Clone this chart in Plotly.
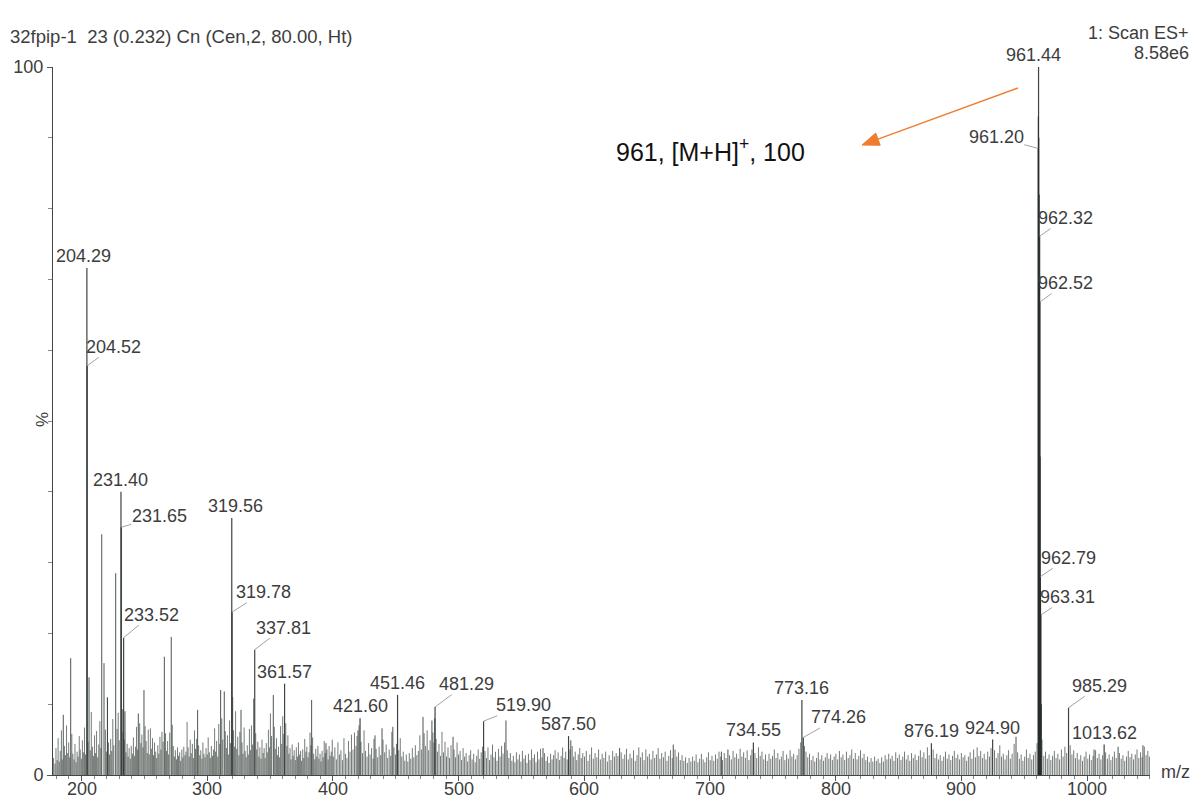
import math
import plotly.graph_objects as go

# ---------------- data ----------------
# labelled peaks (m/z, relative intensity %)
label_mz = [961.44, 961.20, 962.32, 962.52, 962.79, 963.31,
            204.29, 204.52, 231.40, 231.65, 233.52, 319.56, 319.78,
            337.81, 361.57, 421.60, 451.46, 481.29, 519.90, 587.50,
            734.55, 773.16, 774.26, 876.19, 924.90, 985.29, 1013.62]
label_pct = [100.0, 88.5, 76.1, 66.8, 28.0, 22.6,
             71.6, 57.8, 40.0, 35.0, 19.4, 36.3, 23.0,
             17.7, 12.9, 8.0, 11.3, 9.6, 7.6, 5.5,
             4.6, 10.6, 5.3, 4.5, 5.0, 9.5, 4.3]
label_text = ["961.44", "961.20", "962.32", "962.52", "962.79", "963.31",
              "204.29", "204.52", "231.40", "231.65", "233.52", "319.56", "319.78",
              "337.81", "361.57", "421.60", "451.46", "481.29", "519.90", "587.50",
              "734.55", "773.16", "774.26", "876.19", "924.90", "985.29", "1013.62"]

# extra lines of the molecular-ion cluster
cluster_peaks = [(961.30, 93.0), (961.60, 90.0), (961.90, 82.0), (962.10, 70.0),
                 (962.65, 45.0), (963.00, 26.0), (963.60, 10.0)]

# other clearly visible unlabelled peaks
strong_peaks = [(185.5, 8.5), (191.4, 16.5), (206.0, 13.8), (216.1, 34.0), (217.9, 15.8),
                (220.6, 11.0), (227.2, 28.5), (234.6, 9.0), (245.2, 8.7), (249.7, 12.0),
                (265.9, 16.7), (271.4, 19.5), (292.4, 9.2), (310.7, 12.0), (313.6, 11.8),
                (326.9, 9.2), (352.6, 11.3), (383.1, 10.6), (394.5, 4.5), (420.0, 6.3),
                (433.5, 5.6), (439.1, 6.6), (447.7, 6.8), (471.7, 8.2), (478.8, 7.7),
                (481.1, 8.0), (495.6, 5.4), (537.7, 7.7), (567.2, 3.8), (589.3, 4.9),
                (628.1, 3.8), (670.8, 4.3), (709.1, 3.3), (714.3, 3.6), (943.5, 5.4),
                (1005.6, 3.6), (1024.7, 4.0), (1044.5, 4.2)]

noise_low = [(177.8,2.4),(178.9,1.6),(179.7,3.8),(180.6,2.1),(181.4,5.2),(182.3,1.9),(183.1,3.4),(184.0,6.3),(184.7,2.2),(186.4,4.1),(187.2,2.8),(188.1,7.0),(189.0,3.1),(189.8,4.6),(190.6,2.5),(192.3,5.8),(193.1,3.0),(194.0,2.2),(194.8,4.4),(195.7,1.8),(196.5,3.3),(197.3,2.6),(198.2,5.5),(199.0,3.6),(199.9,2.3),(200.7,4.9),(201.5,3.2),(202.4,6.7),(203.2,2.9),(205.2,4.7),(207.0,3.5),(207.8,8.9),(208.7,4.0),(209.5,2.7),(210.4,5.6),(211.2,3.1),(212.0,6.2),(212.9,2.5),(213.7,4.3),(214.6,7.6),(215.4,3.8),(219.0,6.4),(219.8,3.3),(220.7,10.8),(221.5,4.6),(222.3,2.9),(223.2,5.1),(224.0,3.4),(224.9,7.9),(225.7,4.2),(228.3,6.5),(229.2,8.8),(230.0,4.9),(232.5,9.3),(233.0,6.1),(234.0,5.0),(235.4,3.2),(236.3,4.4),(237.1,2.6),(237.9,3.8),(238.8,2.3),(239.6,4.1),(240.5,3.0),(241.3,5.3),(242.1,2.7),(243.0,4.0),(243.8,6.8),(244.7,3.6),(246.3,7.3),(247.2,4.5),(248.0,5.7),(248.9,3.9),(250.6,6.9),(251.4,4.8),(252.3,3.1),(253.1,6.4),(253.9,2.9),(254.8,6.6),(255.6,3.7),(256.5,5.2),(257.3,2.8),(258.1,4.6),(259.0,3.3),(259.8,2.4),(260.7,4.2),(261.5,3.0),(262.4,5.4),(263.2,3.6),(264.0,6.1),(264.9,4.7),(266.8,5.9),(267.6,3.4),(268.5,4.8),(269.3,2.9),(270.2,6.0),(272.2,7.1),(273.0,4.1),(273.9,2.6),(274.7,3.5),(275.6,2.2),(276.4,3.9),(277.2,2.7),(278.1,3.2),(278.9,2.0),(279.8,3.6),(280.6,2.5),(281.4,4.0),(282.3,2.8),(283.1,3.3),(284.0,7.5),(284.8,3.9),(285.7,2.6),(286.5,5.0),(287.3,3.1),(288.2,4.4),(289.0,2.4),(289.9,6.3),(290.7,3.7),(291.6,5.1),(293.2,4.2),(294.1,2.8),(294.9,3.5),(295.8,2.3),(296.6,4.6),(297.4,3.0),(298.3,2.5),(299.1,3.8)]

noise_300 = [(300.0,2.9),(300.8,5.3),(301.7,3.2),(302.5,2.4),(303.3,4.1),(304.2,2.7),(305.0,3.6),(305.9,6.6),(306.7,3.3),(307.5,4.8),(308.4,2.6),(309.2,7.2),(310.0,4.4),(311.6,8.0),(312.4,5.0),(314.4,6.2),(315.3,3.8),(316.1,5.6),(316.9,2.9),(317.8,7.7),(318.6,4.5),(320.3,11.0),(321.0,6.3),(321.8,4.0),(322.6,9.0),(323.5,3.7),(324.3,5.4),(325.2,2.8),(326.0,6.1),(327.7,4.6),(328.5,3.0),(329.4,6.7),(330.2,3.4),(331.0,2.5),(331.9,4.2),(332.7,2.9),(333.6,6.5),(334.4,3.5),(335.2,7.0),(336.1,4.3),(336.9,10.8),(338.6,5.9),(339.4,3.6),(340.3,4.7),(341.1,2.6),(341.9,3.9),(342.8,2.3),(343.6,5.0),(344.5,3.1),(345.3,3.8),(346.1,2.4),(347.0,4.5),(347.8,3.2),(348.7,6.4),(349.5,3.9),(350.3,8.7),(351.2,5.5),(353.4,6.8),(354.2,3.7),(355.1,5.2),(355.9,2.8),(356.7,4.0),(357.6,2.5),(358.4,6.9),(359.3,4.4),(360.1,8.3),(360.9,5.8),(362.5,7.3),(363.4,4.1),(364.2,5.6),(365.0,3.0),(365.9,3.8),(366.7,2.2),(367.6,4.3),(368.4,2.7),(369.2,3.5),(370.1,2.1),(370.9,3.9),(371.8,2.6),(372.6,4.6),(373.4,2.9),(374.3,3.4),(375.1,2.0),(376.0,3.6),(376.8,2.4),(377.6,5.1),(378.5,3.3),(379.3,4.0),(380.2,2.5),(381.0,3.2),(381.8,6.0),(382.5,4.2),(383.9,5.3),(384.7,3.0),(385.6,2.2),(386.4,3.7),(387.2,2.6),(388.1,4.1),(388.9,2.3),(389.8,3.0),(390.6,1.9),(391.4,3.4),(392.3,2.5),(393.1,4.8),(393.9,3.1),(395.3,3.6),(396.2,2.2),(397.0,4.1),(397.8,2.7),(398.7,3.3),(399.5,5.0)]

noise_400 = [(400.4,2.6),(401.6,3.9),(402.8,2.2),(404.0,4.6),(405.2,2.9),(406.4,3.5),(407.6,2.1),(408.8,5.2),(410.0,3.0),(411.2,2.4),(412.4,4.8),(413.6,3.3),(414.8,5.7),(416.0,3.6),(417.2,6.0),(418.4,4.1),(419.2,5.5),(420.8,7.0),(422.4,4.7),(423.6,3.1),(424.8,6.3),(426.0,3.4),(427.2,2.6),(428.4,4.5),(429.6,2.9),(430.8,3.8),(432.0,2.3),(432.7,5.1),(434.4,3.7),(435.6,2.5),(436.8,4.0),(438.0,2.8),(439.9,5.0),(441.2,3.2),(442.4,4.3),(443.6,2.4),(444.8,3.6),(446.0,2.7),(446.9,6.1),(448.6,3.9),(449.8,2.9),(450.6,4.4),(452.4,3.5),(453.6,5.2),(454.8,2.6),(456.0,3.3),(457.2,2.0),(458.4,2.9),(459.6,1.9),(460.8,3.1),(462.0,2.3),(463.2,3.8),(464.4,2.5),(465.6,4.2),(466.8,2.8),(468.0,3.4),(469.2,5.6),(470.4,3.6),(472.6,5.9),(473.8,4.1),(475.0,6.3),(476.2,3.5),(477.4,4.9),(479.6,6.0),(480.4,4.6),(482.1,5.1),(483.2,3.3),(484.4,4.4),(485.6,2.7),(486.8,6.1),(488.0,3.2),(489.2,4.7),(490.4,2.6),(491.6,3.9),(492.8,2.4),(494.0,4.2),(496.4,3.6),(497.6,2.5),(498.8,4.6),(500.0,2.9),(501.2,3.4),(502.4,2.1),(503.6,3.8),(504.8,2.6),(506.0,3.1),(507.2,1.9),(508.4,2.8),(509.6,3.5),(510.8,2.2),(512.0,3.0),(513.2,1.8),(514.4,2.7),(515.6,3.6),(516.8,2.3),(518.0,3.2),(519.0,4.0),(521.0,3.4),(522.2,2.4),(523.4,3.9),(524.6,2.1),(525.8,2.9),(527.0,4.3),(528.2,2.5),(529.4,3.3),(530.6,2.0),(531.8,3.7),(533.0,2.6),(534.2,4.1),(535.4,3.0),(536.6,4.6),(538.8,3.5),(540.0,2.4),(541.2,3.1),(542.4,2.0),(543.6,2.7),(544.8,1.8),(546.0,3.2),(547.2,2.2),(548.4,2.9),(549.6,1.9),(550.8,3.4),(552.0,2.3),(553.2,2.8),(554.4,1.7),(555.6,3.0),(556.8,2.1),(558.0,3.6),(559.2,2.4),(560.4,2.9),(561.6,1.8),(562.8,3.3),(564.0,2.2),(565.2,3.7),(566.4,2.5),(568.4,3.1),(569.6,2.0),(570.8,2.6),(572.0,1.7),(573.2,3.0),(574.4,2.2),(575.6,2.8),(576.8,3.5),(578.0,2.3),(579.2,3.2),(580.4,2.1),(581.6,2.7),(582.8,3.9),(584.0,2.4),(585.2,3.3),(586.4,2.2),(588.6,3.6),(590.4,4.1),(591.6,2.6),(592.8,3.3),(594.0,2.1),(595.2,2.9),(596.4,3.8),(597.6,2.4),(598.8,3.1)]

noise_600 = [(600.2,2.6),(601.6,3.4),(603.0,2.0),(604.4,2.9),(605.8,3.9),(607.2,2.3),(608.6,3.1),(610.0,2.5),(611.4,3.6),(612.8,2.2),(614.2,3.0),(615.6,2.4),(617.0,3.3),(618.4,1.9),(619.8,2.8),(621.2,2.1),(622.6,3.4),(624.0,2.6),(625.4,3.1),(626.8,2.7),(629.4,3.2),(630.8,2.3),(632.2,2.9),(633.6,3.7),(635.0,2.2),(636.4,3.0),(637.8,2.4),(639.2,3.5),(640.6,2.0),(642.0,2.8),(643.4,3.9),(644.8,2.5),(646.2,3.2),(647.6,2.1),(649.0,3.6),(650.4,2.6),(651.8,3.0),(653.2,2.2),(654.6,3.4),(656.0,2.4),(657.4,2.9),(658.8,3.8),(660.2,2.3),(661.6,3.1),(663.0,2.5),(664.4,3.3),(665.8,2.0),(667.2,2.7),(668.6,3.5),(670.0,2.4),(672.2,3.6),(673.6,2.6),(675.0,3.2),(676.4,2.1),(677.8,2.8),(679.2,2.0),(680.6,2.5),(682.0,1.7),(683.4,2.4),(684.8,1.9),(686.2,2.6),(687.6,2.0),(689.0,2.9),(690.4,1.8),(691.8,2.3),(693.2,3.0),(694.6,2.2),(696.0,1.8),(697.4,2.5),(698.8,3.2),(700.2,2.1),(701.6,2.7),(703.0,2.0),(704.4,2.9),(705.8,2.3),(707.2,3.3),(708.6,2.6),(710.0,2.1),(711.4,3.1),(712.8,2.4),(715.6,2.8),(717.0,2.2),(718.4,3.4),(719.8,2.5),(721.2,3.0),(722.6,2.3),(724.0,3.7),(725.4,2.6),(726.8,3.2),(728.2,2.4),(729.6,3.5),(731.0,2.1),(732.4,2.8),(733.4,3.6),(735.8,3.1),(737.2,2.4),(738.6,3.9),(740.0,2.7),(741.4,3.3),(742.8,2.2),(744.2,2.9),(745.6,2.0),(747.0,3.0),(748.4,2.3),(749.8,2.7),(751.2,3.6),(752.6,2.4),(754.0,3.1),(755.4,2.2),(756.8,2.6),(758.2,3.4),(759.6,2.1),(761.0,2.9),(762.4,2.3),(763.8,3.5),(765.2,2.6),(766.6,3.0),(768.0,2.2),(769.4,2.8),(770.8,3.7),(772.2,4.6),(775.2,4.1),(776.4,3.3),(777.8,2.5),(779.2,3.0),(780.6,2.1),(782.0,2.7),(783.4,1.9),(784.8,2.4),(786.2,3.2),(787.6,2.2),(789.0,2.8),(790.4,2.0),(791.8,2.5),(793.2,3.1),(794.6,2.3),(796.0,2.9),(797.4,2.1),(798.8,2.6)]

noise_800 = [(800.2,3.0),(801.6,2.2),(803.0,3.4),(804.4,2.5),(805.8,2.9),(807.2,2.1),(808.6,3.3),(810.0,2.4),(811.4,2.8),(812.8,3.6),(814.2,2.3),(815.6,3.1),(817.0,2.2),(818.4,2.7),(819.8,3.5),(821.2,2.4),(822.6,3.0),(824.0,2.1),(825.4,2.6),(826.8,1.8),(828.2,2.4),(829.6,1.9),(831.0,2.6),(832.4,2.0),(833.8,2.3),(835.2,1.7),(836.6,2.5),(838.0,1.9),(839.4,2.8),(840.8,2.2),(842.2,3.0),(843.6,2.3),(845.0,2.7),(846.4,2.0),(847.8,3.2),(849.2,2.4),(850.6,2.9),(852.0,2.1),(853.4,2.6),(854.8,3.3),(856.2,2.2),(857.6,2.8),(859.0,2.0),(860.4,3.1),(861.8,2.4),(863.2,2.9),(864.6,2.1),(866.0,2.7),(867.4,3.5),(868.8,2.5),(870.2,3.2),(871.6,2.3),(873.0,3.9),(874.4,2.8),(877.6,3.6),(879.0,2.4),(880.4,3.0),(881.8,2.2),(883.2,2.8),(884.6,2.0),(886.0,2.6),(887.4,3.3),(888.8,2.3),(890.2,2.9),(891.6,2.1),(893.0,2.7),(894.4,3.4),(895.8,2.4),(897.2,2.9),(898.6,2.2),(900.0,3.1),(901.4,2.5),(902.8,2.8),(904.2,2.0),(905.6,2.6),(907.0,3.2),(908.4,2.3),(909.8,3.6),(911.2,2.5),(912.6,3.9),(914.0,2.7),(915.4,3.4),(916.8,2.4),(918.2,3.0),(919.6,2.2),(921.0,3.3),(922.4,2.6),(923.6,3.8),(926.4,3.5),(927.8,2.4),(929.2,3.1),(930.6,4.2),(932.0,2.6),(933.4,3.0),(934.8,2.2),(936.2,2.8),(937.6,3.5),(939.0,2.3),(940.4,3.0),(942.0,4.4),(944.8,3.2),(946.2,2.3),(947.6,2.9),(949.0,2.0),(950.4,2.6),(951.8,3.6),(953.2,2.4),(954.6,3.0),(956.0,2.2),(957.4,2.8),(958.8,3.3),(960.2,4.5),(964.2,5.0),(965.6,2.7),(967.0,3.3),(968.4,2.3),(969.8,2.9),(971.2,2.1),(972.6,2.7),(974.0,3.4),(975.4,2.4),(976.8,3.0),(978.2,2.2),(979.6,3.6),(981.0,2.6),(982.4,4.0),(983.8,3.1),(986.6,4.2),(988.0,2.9),(989.4,3.5),(990.8,2.4),(992.2,3.1),(993.6,2.2),(995.0,2.8),(996.4,2.0),(997.8,2.6),(999.2,3.3),(1000.6,2.3),(1002.0,2.9),(1003.4,2.1),(1004.8,2.7),(1006.8,3.5),(1008.2,2.4),(1009.6,3.0),(1011.0,2.2),(1012.4,2.8),(1014.8,3.2),(1016.2,2.3),(1017.6,2.9),(1019.0,2.1),(1020.4,2.6),(1021.8,3.3),(1023.2,2.4),(1025.8,3.1),(1027.2,2.3),(1028.6,2.8),(1030.0,2.0),(1031.4,2.6),(1032.8,3.4),(1034.2,2.5),(1035.6,3.0),(1037.0,2.2),(1038.4,2.9),(1039.8,3.6),(1041.2,2.4),(1042.6,3.2),(1043.8,2.5),(1045.6,4.0),(1047.0,2.8),(1048.4,3.4),(1049.6,2.6)]

x_tick_vals = [200, 300, 400, 500, 600, 700, 800, 900, 1000]
y_tick_vals = [0, 100]

header_left = "32fpip-1  23 (0.232) Cn (Cen,2, 80.00, Ht)"
header_right_1 = "1: Scan ES+"
header_right_2 = "8.58e6"
callout_text = "961, [M+H]<sup>+</sup>, 100"

# ---------------- styling / layout ----------------
W, H = 1197, 800
ML, MR, MT, MB = 53, 47, 67, 25
PW, PH = W - ML - MR, H - MT - MB
FONT = "Liberation Sans, Arial, sans-serif"
TXT = "#3d3d3d"
ORANGE = "#EE7D30"

# leader-line labels: pixel offset of text centre from the peak top
LEADER = {"961.20": (-42, -11), "962.32": (26, -18), "962.52": (26, -19),
          "962.79": (28, -19), "963.31": (27, -18), "204.52": (26, -19),
          "231.65": (38, -11), "233.52": (28, -23), "319.78": (31, -20),
          "337.81": (29, -22), "481.29": (31, -23), "519.90": (40, -16),
          "774.26": (35, -20), "985.29": (31, -22)}
DIRECT_XSHIFT = {"961.44": -5, "319.56": 4, "204.29": -3}

# callout arrow (page pixels): tail and head
ARROW_TAIL = (1018, 88)
ARROW_HEAD = (862, 145)


def px(xp):
    return (xp - ML) / PW


def py(yp):
    return (MT + PH - yp) / PH


def sticks(pairs):
    xs, ys = [], []
    for m, h in pairs:
        xs += [m, m, None]
        ys += [0, h, None]
    return xs, ys


fig = go.Figure()

groups = [
    (noise_low + noise_300 + noise_400 + noise_600 + noise_800, "rgba(50,60,55,0.68)", 1),
    (strong_peaks, "rgba(45,55,50,0.85)", 1),
    (list(zip(label_mz, label_pct)) + cluster_peaks, "rgba(40,48,45,0.9)", 1.2),
]
for pairs, col, w in groups:
    xs, ys = sticks(pairs)
    fig.add_trace(go.Scatter(x=xs, y=ys, mode="lines", line=dict(color=col, width=w),
                             hoverinfo="skip", showlegend=False))

ann = []
for m, h, t in zip(label_mz, label_pct, label_text):
    if t in LEADER:
        ax, ay = LEADER[t]
        ann.append(dict(x=m, y=h, xref="x", yref="y", text=t, showarrow=True,
                        arrowhead=0, arrowwidth=0.8, arrowcolor="#8a8a8a",
                        ax=ax, ay=ay, axref="pixel", ayref="pixel",
                        standoff=0, borderpad=0,
                        font=dict(family=FONT, size=18, color=TXT)))
    else:
        ann.append(dict(x=m, y=h, xref="x", yref="y", text=t, showarrow=False,
                        yanchor="bottom", yshift=1, xshift=DIRECT_XSHIFT.get(t, 0),
                        borderpad=0, font=dict(family=FONT, size=18, color=TXT)))

# x tick labels placed as annotations so they sit where the reference has them
for v in x_tick_vals:
    ann.append(dict(x=v, y=py(789), xref="x", yref="paper", text=str(v), showarrow=False,
                    xanchor="center", yanchor="middle",
                    font=dict(family=FONT, size=18, color=TXT)))

ann += [
    dict(x=px(8), y=py(37), xref="paper", yref="paper", text=header_left, showarrow=False,
         xanchor="left", yanchor="middle", font=dict(family=FONT, size=18.5, color=TXT)),
    dict(x=px(1191), y=py(33), xref="paper", yref="paper", text=header_right_1, showarrow=False,
         xanchor="right", yanchor="middle", font=dict(family=FONT, size=18, color=TXT)),
    dict(x=px(1191), y=py(53), xref="paper", yref="paper", text=header_right_2, showarrow=False,
         xanchor="right", yanchor="middle", font=dict(family=FONT, size=18, color=TXT)),
    dict(x=px(42), y=py(420), xref="paper", yref="paper", text="%", showarrow=False,
         textangle=-90, xanchor="center", yanchor="middle",
         font=dict(family=FONT, size=17, color=TXT)),
    dict(x=px(1175), y=py(772), xref="paper", yref="paper", text="m/z", showarrow=False,
         xanchor="center", yanchor="middle", font=dict(family=FONT, size=18, color=TXT)),
    dict(x=px(710), y=py(150), xref="paper", yref="paper", text=callout_text, showarrow=False,
         xanchor="center", yanchor="middle", font=dict(family=FONT, size=25, color="#111111")),
]

# orange callout arrow drawn with shapes (line + filled head)
tx, ty = ARROW_TAIL
hx, hy = ARROW_HEAD
L = math.hypot(tx - hx, ty - hy)
ux, uy = (tx - hx) / L, (ty - hy) / L
head_len, head_half = 17, 6.5
bx, by = hx + ux * head_len, hy + uy * head_len
nx, ny = -uy, ux
c1 = (bx + nx * head_half, by + ny * head_half)
c2 = (bx - nx * head_half, by - ny * head_half)
shapes = [
    dict(type="line", xref="paper", yref="paper", x0=px(tx), y0=py(ty), x1=px(bx), y1=py(by),
         line=dict(color=ORANGE, width=1.4)),
    dict(type="path", xref="paper", yref="paper",
         path=f"M {px(hx)} {py(hy)} L {px(c1[0])} {py(c1[1])} L {px(c2[0])} {py(c2[1])} Z",
         fillcolor=ORANGE, line=dict(color=ORANGE, width=1)),
]

x0 = 200 - (81.5 - ML) / 1.2569
x1 = 200 + (ML + PW - 81.5) / 1.2569

fig.update_layout(
    width=W, height=H, margin=dict(l=ML, r=MR, t=MT, b=MB, pad=0, autoexpand=False),
    paper_bgcolor="white", plot_bgcolor="white",
    font=dict(family=FONT, color=TXT),
    annotations=ann, shapes=shapes, showlegend=False,
    xaxis=dict(range=[x0, x1], tickmode="array", tickvals=x_tick_vals,
               showticklabels=False, automargin=False,
               showline=True, linecolor="#444", linewidth=1, ticks="outside",
               ticklen=5, tickcolor="#555", tickwidth=1, showgrid=False, zeroline=False,
               minor=dict(tickmode="linear", tick0=0, dtick=10, ticks="outside",
                          ticklen=3, tickcolor="#888", showgrid=False)),
    yaxis=dict(range=[0, 100], tickmode="array", tickvals=y_tick_vals,
               ticktext=[str(v) for v in y_tick_vals], automargin=False,
               showline=True, linecolor="#444", linewidth=1, ticks="outside",
               ticklen=5, tickcolor="#555", showgrid=False, zeroline=False,
               tickfont=dict(family=FONT, size=18, color=TXT),
               minor=dict(tickmode="linear", tick0=0, dtick=10, ticks="outside",
                          ticklen=4, tickcolor="#888", showgrid=False)),
)

fig.write_html("out.html")
